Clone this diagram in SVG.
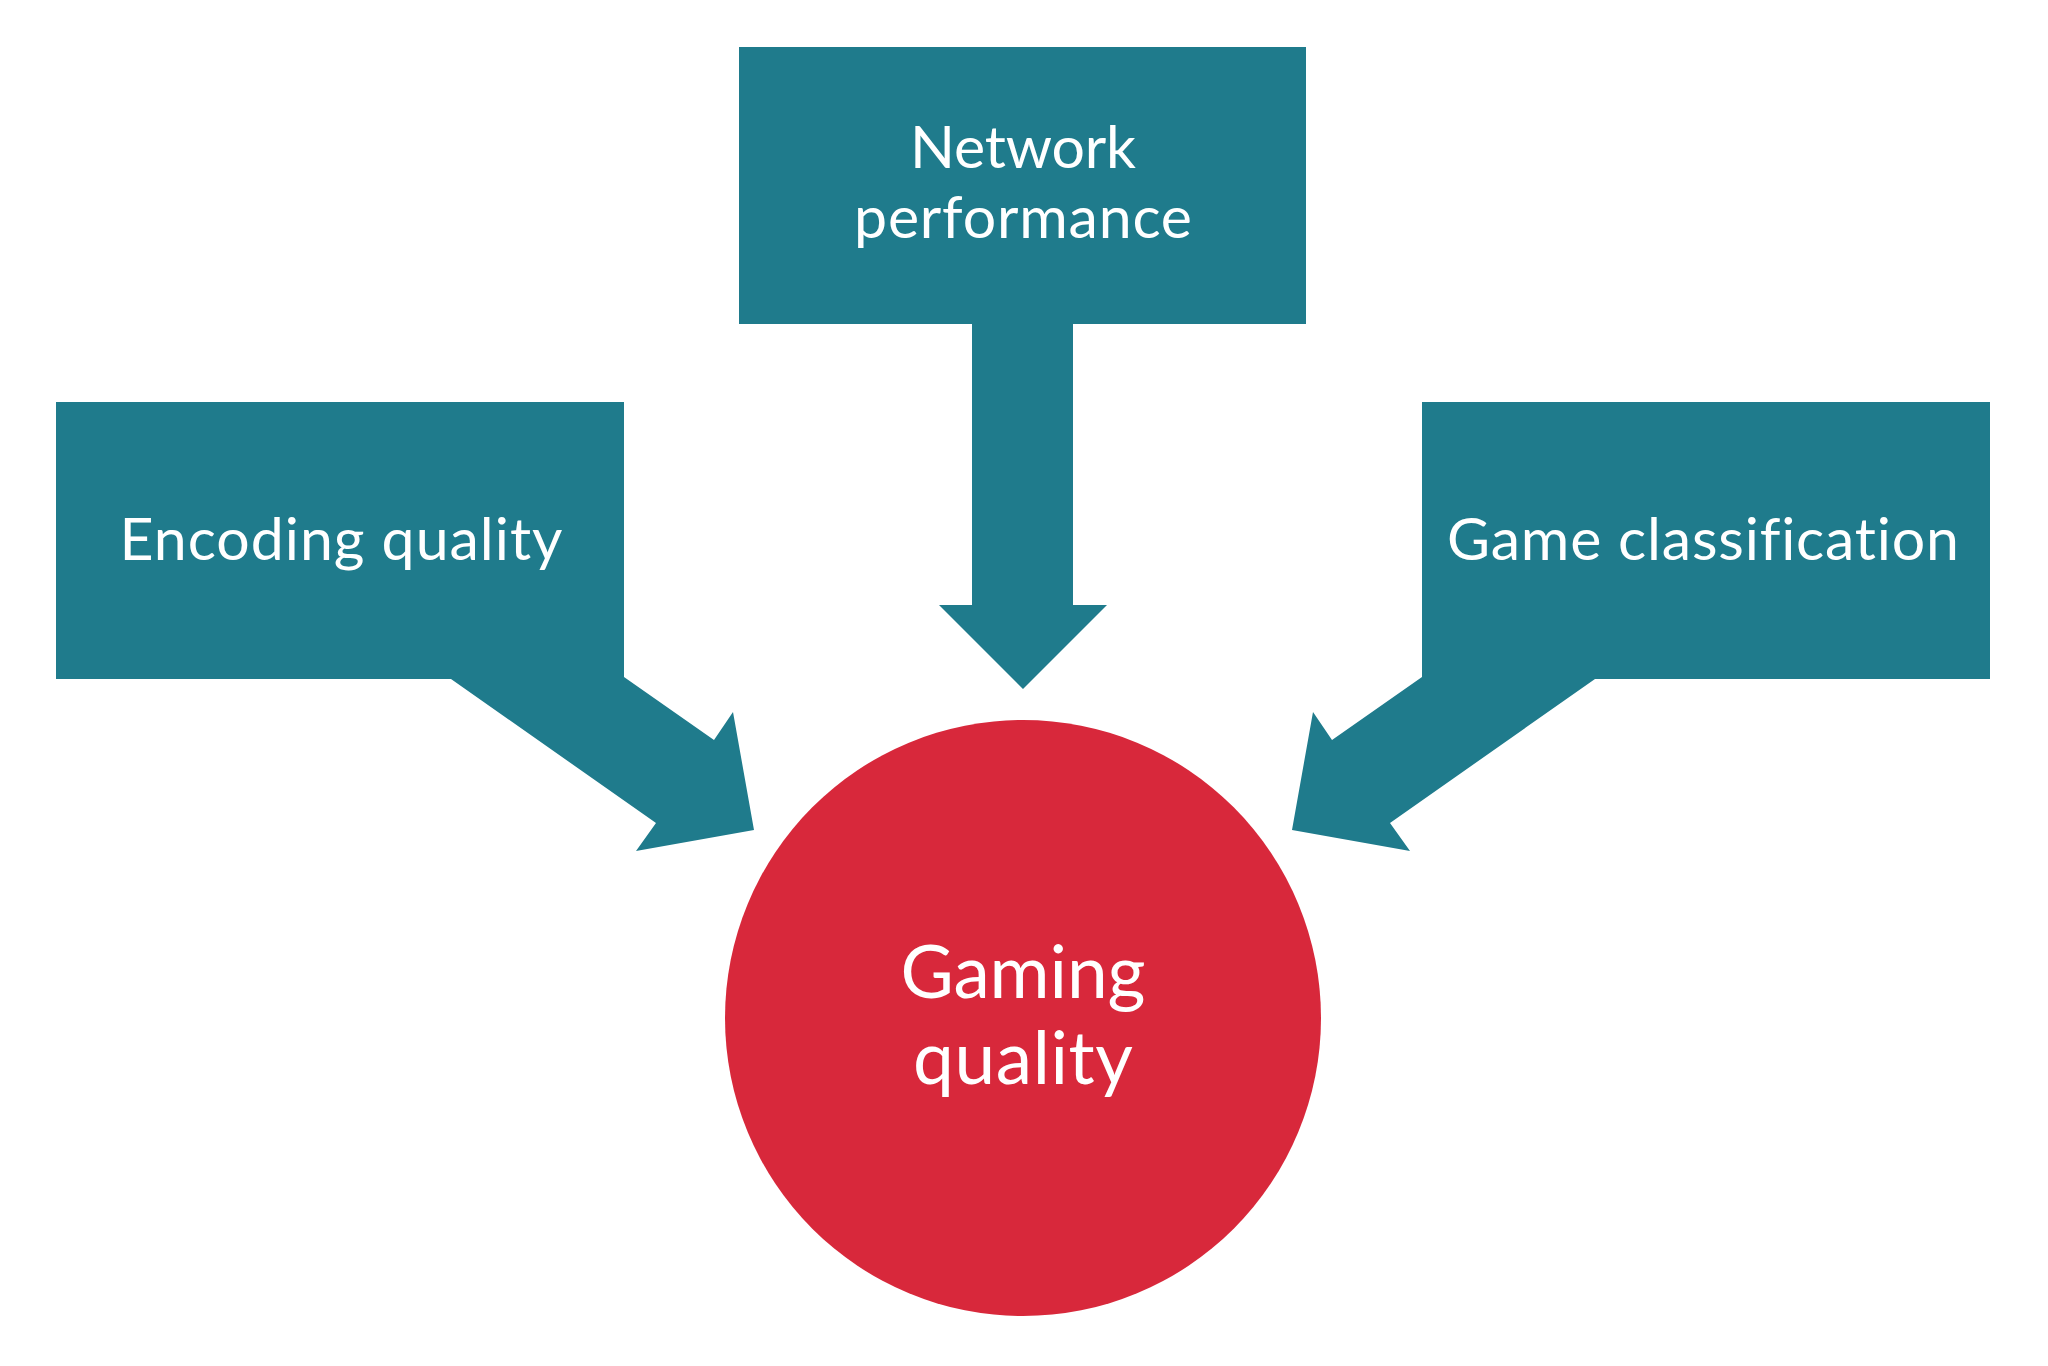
<svg xmlns="http://www.w3.org/2000/svg" width="2048" height="1366" viewBox="0 0 2048 1366">
<style>
.box{fill:#1F7B8C}
.arr{fill:#1F7B8C}
.circ{fill:#D8283B}
.lbl{font-family:Lato,"Open Sans","Liberation Sans",sans-serif;fill:#ffffff;text-anchor:middle;font-size:59px;font-variant-ligatures:none}
.big{font-size:73px}
</style>
<rect width="2048" height="1366" fill="#ffffff"/>
<g id="connectors">
<polygon class="arr" points="972,320 1073,320 1073,605 1107,605 1023,689 939,605 972,605"/>
<polygon class="arr" points="451,660 451,679 656,823 636,851 754,830 733,712 714,740 624,677 624,660"/>
<polygon class="arr" points="1595,660 1595,679 1390,823 1410,851 1292,830 1313,712 1332,740 1422,677 1422,660"/>
</g>
<g id="network-performance">
<rect class="box" x="739" y="47" width="567" height="277"/>
<text class="lbl" x="1023" y="168" textLength="226">Network</text>
<text class="lbl" x="1023" y="238" textLength="338">performance</text>
</g>
<g id="encoding-quality">
<rect class="box" x="56" y="402" width="568" height="277"/>
<text class="lbl" x="341" y="560" textLength="443">Encoding quality</text>
</g>
<g id="game-classification">
<rect class="box" x="1422" y="402" width="568" height="277"/>
<text class="lbl" x="1703" y="560" textLength="512">Game classification</text>
</g>
<g id="gaming-quality">
<circle class="circ" cx="1023" cy="1018" r="298"/>
<text class="lbl big" x="1023" y="998" textLength="245">Gaming</text>
<text class="lbl big" x="1023" y="1084" textLength="220">quality</text>
</g>
</svg>
